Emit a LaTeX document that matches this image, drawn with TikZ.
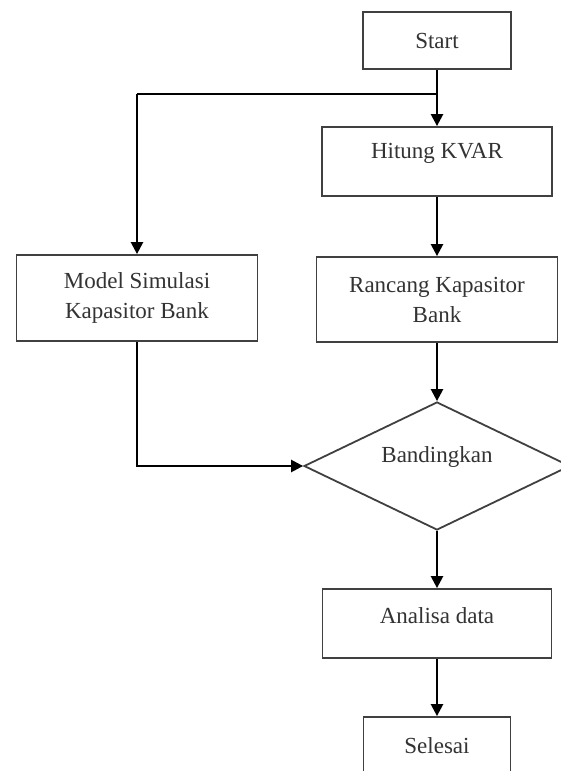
\documentclass[tikz,border=0pt]{standalone}
\usepackage{fontspec}
\setmainfont{Liberation Serif}
\usetikzlibrary{shapes.geometric,arrows.meta}
\begin{document}
\begin{tikzpicture}[x=1pt,y=-1pt,
  box/.style={draw=black!75, line width=1.8pt, rectangle, inner sep=0pt, text=black!80,
    font=\fontsize{23}{30}\selectfont, align=center},
  dec/.style={draw=black!75, line width=1.8pt, diamond, inner sep=0pt, text=black!80,
    font=\fontsize{23}{30}\selectfont, minimum width=266pt, minimum height=128pt, aspect=2.08},
  lbl/.style={text=black!80, font=\fontsize{23}{30}\selectfont, align=center},
  flow/.style={draw=black, line width=2.4pt, -{Triangle[length=12pt,width=12pt]}},
  seg/.style={draw=black, line width=2.4pt}]
\useasboundingbox[fill=white] (0,0) rectangle (561,771);

\node[box, minimum width=148pt, minimum height=57pt] (start) at (437,40.5) {Start};
\node[box, minimum width=230pt, minimum height=69pt,
  label={[lbl, yshift=8pt]center:Hitung KVAR}] (hitung) at (437,161.5) {};
\node[box, minimum width=241pt, minimum height=86pt] (model) at (137,298) {Model Simulasi\\Kapasitor Bank};
\node[box, minimum width=241pt, minimum height=85pt] (rancang) at (437,299.5) {Rancang Kapasitor\\Bank};
\node[dec, label={[lbl, yshift=9pt]center:Bandingkan}] (band) at (437,466) {};
\node[box, minimum width=229pt, minimum height=69pt,
  label={[lbl, yshift=8pt]center:Analisa data}] (analisa) at (437,623.5) {};
\node[box, minimum width=147pt, minimum height=69pt,
  label={[lbl, yshift=6pt]center:Selesai}] (selesai) at (437,751.5) {};

\coordinate (j) at (437,94);
\coordinate (jl) at (137,94);

\draw[flow] (start.south) -- (hitung.north);
\draw[seg] (j) -- (jl);
\draw[flow] (jl) -- (model.north);
\draw[flow] (hitung.south) -- (rancang.north);
\draw[flow] (rancang.south) -- (band.north);
\draw[flow] (model.south) |- (band.west);
\draw[flow] (band.south) -- (analisa.north);
\draw[flow] (analisa.south) -- (selesai.north);
\end{tikzpicture}
\end{document}
